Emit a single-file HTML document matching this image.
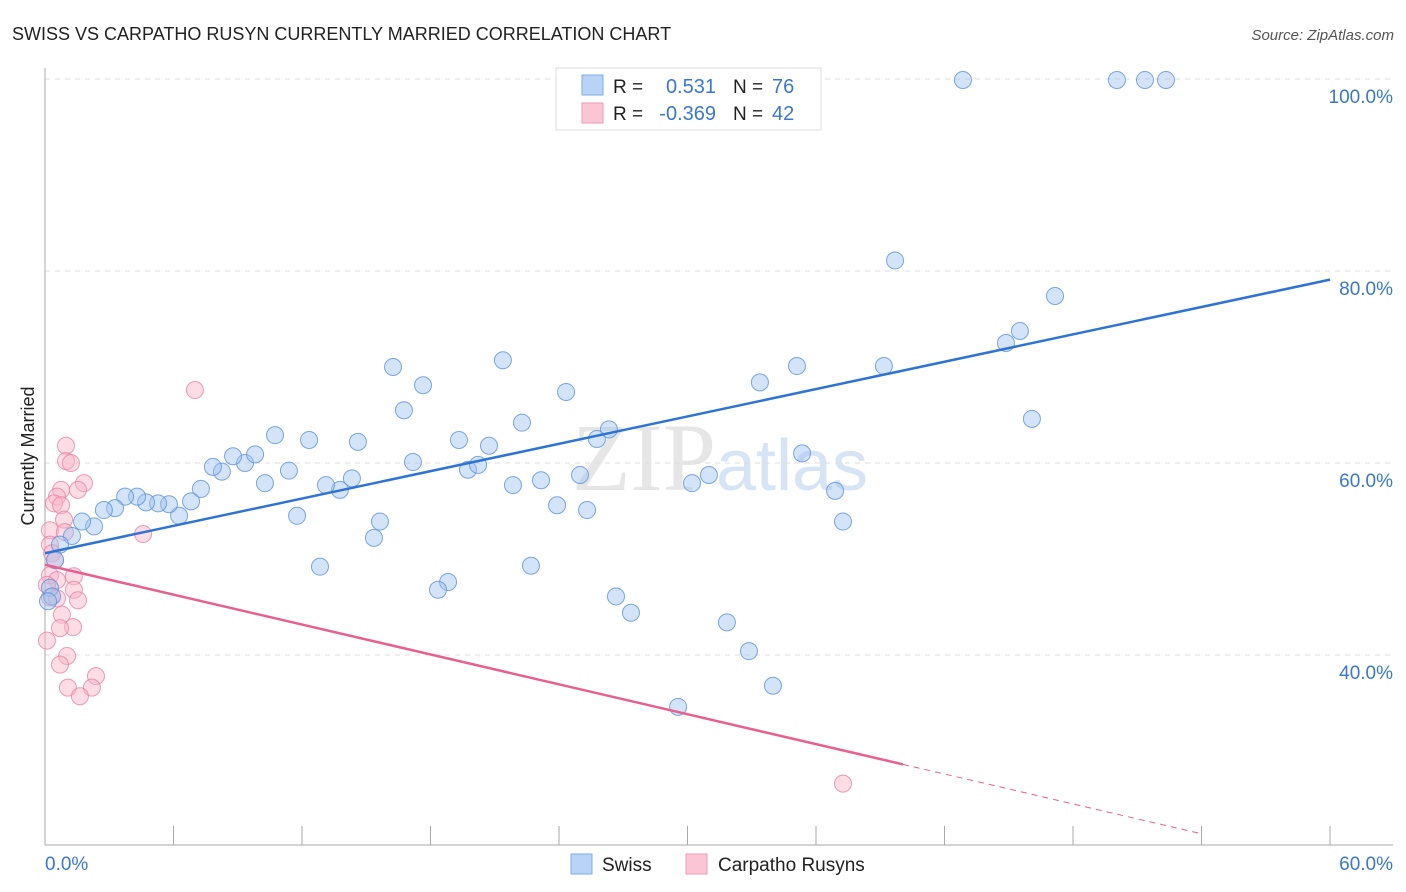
<!DOCTYPE html>
<html><head><meta charset="utf-8"><style>
body{margin:0;background:#fff;font-family:"Liberation Sans",sans-serif;}
svg{display:block}
</style></head><body>
<svg id="chart" width="1406" height="892">
<text x="12" y="40" font-size="18" fill="#222">SWISS VS CARPATHO RUSYN CURRENTLY MARRIED CORRELATION CHART</text>
<text x="1394" y="40" font-size="15" fill="#555" text-anchor="end" font-style="italic">Source: ZipAtlas.com</text>
<text x="720" y="490" font-size="96" fill="#e6e6e6" text-anchor="middle" font-family="Liberation Serif, serif">ZIP<tspan fill="#d6e4f5" font-family="Liberation Sans, sans-serif" font-size="72">atlas</tspan></text>
<text transform="translate(34,456) rotate(-90)" font-size="18" fill="#222" text-anchor="middle">Currently Married</text>
<g id="grid"></g><g id="marks"></g>
<g>
<rect x="556" y="68" width="265" height="62" fill="#fff" stroke="#ddd"/>
<rect x="582" y="75" width="21" height="20" fill="#b8d3f5" stroke="#7eaee8"/>
<rect x="582" y="103" width="21" height="20" fill="#fac6d5" stroke="#f09ab5"/>
<text x="613" y="93" font-size="19" fill="#222">R =</text><text x="716" y="93" font-size="20" fill="#3a77d4" text-anchor="end">0.531</text>
<text x="733" y="93" font-size="19" fill="#222">N =</text><text x="772" y="93" font-size="20" fill="#3a77d4">76</text>
<text x="613" y="120" font-size="19" fill="#222">R =</text><text x="716" y="120" font-size="20" fill="#3a77d4" text-anchor="end">-0.369</text>
<text x="733" y="120" font-size="19" fill="#222">N =</text><text x="772" y="120" font-size="20" fill="#3a77d4">42</text>
</g>
<g>
<rect x="571" y="854" width="21" height="20" fill="#b8d3f5" stroke="#7eaee8"/>
<text x="602" y="871" font-size="19" fill="#222">Swiss</text>
<rect x="686" y="854" width="21" height="20" fill="#fac6d5" stroke="#f09ab5"/>
<text x="718" y="871" font-size="19" fill="#222">Carpatho Rusyns</text>
</g>
</svg>
<script>
const yTicks=[100,80,60,40];
const xTickLabels=["0.0%","60.0%"];
const swissX=[42.86,50.05,51.36,52.34,39.69,47.16,45.52,44.87,46.08,35.11,39.17,33.38,24.33,21.38,16.25,17.65,16.76,10.74,12.33,14.61,19.33,20.73,22.27,26.33,25.77,35.35,36.89,37.26,31.0,30.21,24.98,23.16,21.85,19.75,20.22,17.18,14.33,13.77,13.12,11.39,10.27,9.34,8.78,9.81,8.26,7.84,7.28,6.82,6.26,5.79,5.28,4.72,4.30,3.74,3.27,2.75,2.29,1.73,1.26,0.70,0.47,0.23,0.33,0.14,11.77,15.64,15.36,12.84,23.91,25.31,22.69,18.82,18.35,26.66,27.36,31.84,32.87,33.99,29.56];
const swissY=[99.9,99.9,99.9,99.9,81.1,77.4,73.75,72.5,64.6,70.1,70.1,68.4,67.4,70.7,70.0,68.1,65.5,62.9,62.4,62.2,62.4,61.8,64.2,63.5,62.5,61.0,57.1,53.9,58.75,57.9,58.75,58.2,57.7,59.3,59.8,60.1,58.4,57.2,57.7,59.2,57.9,60.0,60.7,60.9,59.1,59.6,57.3,56.0,54.5,55.7,55.8,55.9,56.5,56.5,55.3,55.1,53.4,53.9,52.4,51.5,49.9,47.0,46.1,45.6,54.5,53.9,52.2,49.2,55.6,55.1,49.3,47.6,46.8,46.1,44.4,43.4,40.4,36.8,34.6];
const rusX=[7.0,0.98,0.98,1.21,1.82,0.75,1.54,0.56,0.42,0.75,0.89,0.23,0.93,4.58,0.23,0.33,0.47,0.23,0.56,1.35,0.09,1.35,0.23,0.56,1.54,0.79,1.31,0.70,0.09,1.03,0.70,2.38,1.07,2.19,1.63,37.26];
const rusY=[67.6,61.8,60.2,60.0,57.9,57.2,57.2,56.5,55.8,55.6,54.1,53.0,52.8,52.6,51.5,50.6,49.9,48.3,47.8,48.2,47.3,46.8,46.0,45.9,45.7,44.2,42.9,42.8,41.5,39.9,39.0,37.8,36.6,36.6,35.7,26.6];
const swissTrend=[50.6,79.1]; // value at x=0 and x=60
const rusTrend=[49.4,-0.519]; // intercept, slope
const rusSolidEnd=40.06, rusDashEnd=54;
const X=v=>45+v*21.417, Y=v=>79+(100-v)*9.6;
const NS="http://www.w3.org/2000/svg";
function mk(t,a,p){const e=document.createElementNS(NS,t);for(const k in a)e.setAttribute(k,a[k]);p.appendChild(e);return e;}
const g=document.getElementById('grid'), m=document.getElementById('marks');
yTicks.forEach(v=>{
 const l=mk('line',{x1:45,x2:1393,y1:Y(v),y2:Y(v),stroke:'#ddd','stroke-dasharray':'5,5'},g);
 
 
 const t=mk('text',{x:1393,y:Y(v)+24,'font-size':19,fill:'#3a77d4','text-anchor':'end'},g);
 t.textContent=v.toFixed(1)+'%';
 
 
});
mk('line',{x1:45,x2:45,y1:68,y2:845,stroke:'#aaa'},g);
mk('line',{x1:45,x2:1393,y1:845,y2:845,stroke:'#aaa'},g);
for(let i=0;i<=10;i++){mk('line',{x1:X(i*6),x2:X(i*6),y1:826,y2:845,stroke:'#aaa'},g);}
xTickLabels.forEach((s,i)=>{
 const t=mk('text',{x:i?1393:45,y:870,'font-size':19,fill:'#3a77d4','text-anchor':i?'end':'start'},g);
 t.textContent=s;
 
 
});
rusX.forEach((x,i)=>{
 const c=mk('circle',{cx:X(x),cy:Y(rusY[i]),r:8.5,fill:'rgba(248,180,200,0.45)',stroke:'rgba(236,130,165,0.8)','stroke-width':1},m);
 
 
});
swissX.forEach((x,i)=>{
 const c=mk('circle',{cx:X(x),cy:Y(swissY[i]),r:8.5,fill:'rgba(160,196,240,0.45)',stroke:'rgba(90,145,220,0.8)','stroke-width':1},m);
 
 
});
let l=mk('line',{x1:X(0),y1:Y(swissTrend[0]),x2:X(60),y2:Y(swissTrend[1]),stroke:'#2f74d4','stroke-width':2.5},m);


l=mk('line',{x1:X(0),y1:Y(rusTrend[0]),x2:X(rusSolidEnd),y2:Y(rusTrend[0]+rusTrend[1]*rusSolidEnd),stroke:'#e8608f','stroke-width':2.5},m);


l=mk('line',{x1:X(rusSolidEnd),y1:Y(rusTrend[0]+rusTrend[1]*rusSolidEnd),x2:X(rusDashEnd),y2:Y(rusTrend[0]+rusTrend[1]*rusDashEnd),stroke:'#e8608f','stroke-width':1,'stroke-dasharray':'6,5'},m);


</script>
</body></html>
